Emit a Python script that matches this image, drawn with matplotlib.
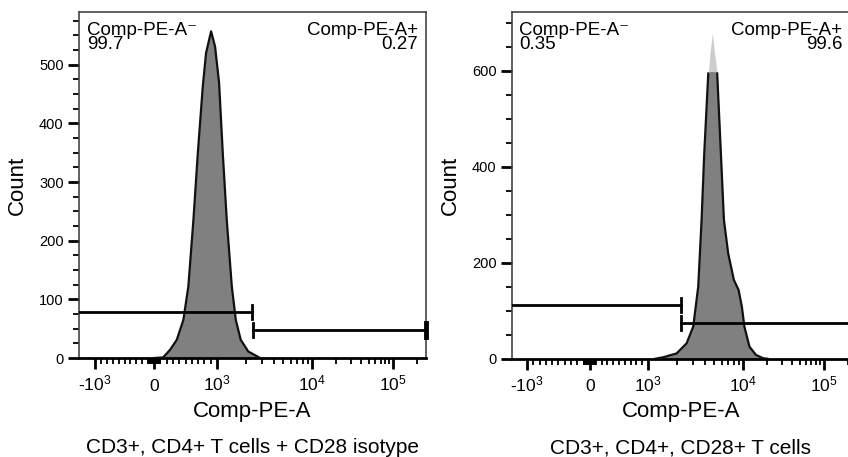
import matplotlib
matplotlib.use("Agg")
import matplotlib.pyplot as plt
import numpy as np

plt.rcParams['font.family'] = ['Liberation Sans', 'DejaVu Sans']
plt.rcParams['mathtext.fontset'] = 'custom'
plt.rcParams['mathtext.rm'] = 'Liberation Sans'
plt.rcParams['mathtext.default'] = 'regular'

# Datos (Comp-PE-A, cuentas)
iso_x = [0, 143, 254, 360, 465, 544, 624, 694, 773, 825, 905, 968, 1050, 1148, 1265, 1429,
         1574, 1774, 2133, 2840]
iso_count = [0, 1, 14, 31, 65, 122, 235, 349, 463, 520, 557, 531, 469, 349, 235, 122,
             65, 31, 11, 0]

cd28_x = [1200, 1450, 2005, 2553, 3000, 3384, 3672, 3917, 4317, 4500, 4755, 5035, 5360,
          5860, 6310, 7000, 8030, 9010, 9750, 10420, 12050, 14480, 17740, 20000]
cd28_count = [0, 3, 11, 32, 67, 150, 289, 428, 594, 636, 678, 636, 594,
              428, 289, 219, 164, 143, 108, 67, 25, 8, 1, 0]

# puertas (umbral, altura neg, altura pos) y porcentajes
iso_gate = 2340
iso_gate_y = [78, 48]
iso_pct = ["99.7", "0.27"]
cd28_gate = 2220
cd28_gate_y = [112, 74]
cd28_pct = ["0.35", "99.6"]

xtick_vals = [-1000, 0, 1000, 10000, 100000]
xtick_labels = ["-$10^{3}$", "0", "$10^{3}$", "$10^{4}$", "$10^{5}$"]
titulos = ["CD3+, CD4+ T cells + CD28 isotype", "CD3+, CD4+, CD28+ T cells"]

S = [-3, -1, 0, 1, 2, 3, 4]


def escala(P):
    def fwd(x):
        x = np.asarray(x, dtype=float)
        a = np.abs(x)
        with np.errstate(divide='ignore', invalid='ignore'):
            s = np.where(a <= 1000, x / 1000,
                         np.sign(x) * (1 + np.log10(np.maximum(a, 1000) / 1000)))
        return np.interp(s, S, P)

    def inv(u):
        u = np.asarray(u, dtype=float)
        s = np.interp(u, P, S)
        return np.where(np.abs(s) <= 1, s * 1000, np.sign(s) * 1000 * 10 ** (np.abs(s) - 1))
    return fwd, inv


minor_x = ([-v for v in range(100, 1000, 100)] + list(range(100, 1000, 100))
           + [-v for v in range(10, 100, 10)] + list(range(10, 100, 10))
           + [m * 10 ** e for e in (3, 4, 5) for m in range(2, 10)])


def panel(ax, P, xlim, ylim, ymaj, ymin, gate, gate_y, cap, pct, titulo, xs, cs, clip=None):
    ax.set_xscale('function', functions=escala(P))

    xs = np.array(xs, dtype=float)
    cs = np.array(cs, dtype=float)
    if clip is None:
        ax.fill_between(xs, 0, cs, color='#808080', lw=0, zorder=2)
        ax.plot(xs, cs, color='#111111', lw=1.6, zorder=3)
    else:
        ax.fill_between(xs, 0, cs, color='#cdcdcd', lw=0, zorder=2)
        ax.fill_between(xs, 0, np.minimum(cs, clip), color='#808080', lw=0, zorder=2)
        linea = np.where(cs > clip, np.nan, cs)
        ax.plot(xs, linea, color='#111111', lw=1.6, zorder=3)

    # puertas
    g2 = gate * 1.015
    ax.plot([xlim[0], gate], [gate_y[0], gate_y[0]], color='black', lw=2, zorder=4)
    ax.plot([gate, gate], [gate_y[0] - cap, gate_y[0] + cap], color='black', lw=2, zorder=4)
    ax.plot([g2, xlim[1]], [gate_y[1], gate_y[1]], color='black', lw=2, zorder=4)
    ax.plot([g2, g2], [gate_y[1] - cap, gate_y[1] + cap], color='black', lw=2, zorder=4)
    ax.plot([xlim[1], xlim[1]], [gate_y[1] - cap, gate_y[1] + cap], color='black', lw=3.5,
            zorder=4, clip_on=False)

    ax.set_xticks(xtick_vals)
    ax.set_xticklabels(xtick_labels)
    ax.set_xticks(minor_x, minor=True)
    ax.set_yticks(ymaj)
    ax.set_yticks(ymin, minor=True)
    ax.set_xlim(*xlim)
    ax.set_ylim(*ylim)
    ax.tick_params(axis='both', which='major', width=2, length=8, direction='out')
    ax.tick_params(axis='both', which='minor', width=1.3, length=4, direction='out')
    ax.tick_params(axis='x', which='major', labelsize=12.5, pad=15.5)
    ax.tick_params(axis='y', which='major', labelsize=10.5, pad=3)
    for lab in ax.get_xticklabels():
        lab.set_verticalalignment('baseline')

    for lado in ['top', 'right', 'left']:
        ax.spines[lado].set_color('#444444')
        ax.spines[lado].set_linewidth(1.2)
    ax.spines['bottom'].set_linewidth(2)
    ax.spines['bottom'].set_color('black')

    ax.set_xlabel("Comp-PE-A", fontsize=16, labelpad=5)
    ax.set_ylabel("Count", fontsize=16, labelpad=8)

    ax.text(0.022, 0.972, "Comp-PE-A\u207b\n" + pct[0], transform=ax.transAxes, ha='left',
            va='top', fontsize=13.5, linespacing=0.8)
    ax.text(0.977, 0.972, "Comp-PE-A+\n" + pct[1], transform=ax.transAxes, ha='right',
            va='top', fontsize=13.5, linespacing=0.8, multialignment='right')

    pos = ax.get_position()
    fig.text(pos.x0 + pos.width / 2, 0.02, titulo, ha='center', va='center', fontsize=15)


fig = plt.figure(figsize=(8.48, 4.57), dpi=100)
ax1 = fig.add_axes([79 / 848, 99 / 457, 347 / 848, 346 / 457])
ax2 = fig.add_axes([512 / 848, 98.3 / 457, 338 / 848, 346.7 / 457])

panel(ax1, [-221, -59, 0, 63, 158, 239, 320], (-1580, 255000), (0, 590),
      [0, 100, 200, 300, 400, 500], list(range(25, 590, 25)),
      iso_gate, iso_gate_y, 12, iso_pct, titulos[0], iso_x, iso_count)
panel(ax2, [-225, -63, 0, 58, 153, 234, 315], (-1530, 210000), (0, 722),
      [0, 200, 400, 600], list(range(50, 722, 50)),
      cd28_gate, cd28_gate_y, 14, cd28_pct, titulos[1], cd28_x, cd28_count, clip=598)

fig.savefig("out.png", dpi=100)
